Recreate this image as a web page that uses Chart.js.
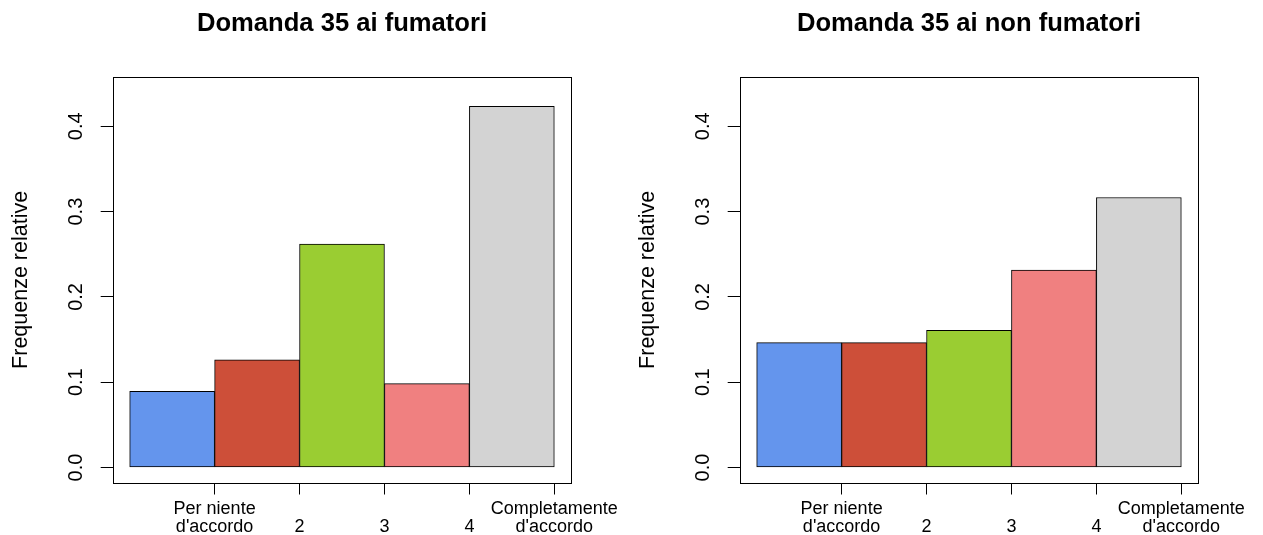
<!DOCTYPE html>
<html>
<head>
<meta charset="utf-8">
<script src="https://cdn.jsdelivr.net/npm/chart.js@4.4.0/dist/chart.umd.min.js"></script>
<style>
html,body{margin:0;padding:0;background:#fff;overflow:hidden;width:1263px;height:535px;}
.wrap{position:absolute;top:0;width:631px;height:535px;}
canvas{display:block;}
</style>
</head>
<body>
<div class="wrap" style="left:0px"><canvas id="c1" width="631" height="535"></canvas></div>
<div class="wrap" style="left:627px"><canvas id="c2" width="631" height="535"></canvas></div>
<script>
// ---- data ----
const categories = ["Per niente d'accordo", "2", "3", "4", "Completamente d'accordo"];
const fumatori = [0.0894, 0.1262, 0.2619, 0.0984, 0.4235];
const nonFumatori = [0.1465, 0.1465, 0.1609, 0.2316, 0.3166];
const barColors = ['#6495ED', '#CD4F39', '#9ACD32', '#F08080', '#D3D3D3'];
const yTicks = [0, 0.1, 0.2, 0.3, 0.4];
const yTickLabels = ['0.0', '0.1', '0.2', '0.3', '0.4'];
const xTicks = [1, 2, 3, 4, 5];
const xTickLabels = [['Per niente', "d'accordo"], ['', '2'], ['', '3'], ['', '4'], ['Completamente', "d'accordo"]];
const titles = ['Domanda 35 ai fumatori', 'Domanda 35 ai non fumatori'];
const yTitle = 'Frequenze relative';

const FONT = '"Liberation Sans", Arial, Helvetica, sans-serif';
Chart.defaults.font.family = FONT;
Chart.defaults.color = '#000';

const rPlot = {
  id: 'rPlot',
  afterDraw(chart) {
    const ctx = chart.ctx, a = chart.chartArea, ys = chart.scales.y;
    ctx.save();
    ctx.strokeStyle = '#000';
    ctx.lineWidth = 1;
    ctx.strokeRect(Math.round(a.left) + 0.5, Math.round(a.top) + 0.5,
                   Math.round(a.right) - Math.round(a.left), Math.round(a.bottom) - Math.round(a.top));
    ctx.fillStyle = '#000';
    ctx.font = '20px ' + FONT;
    ctx.textAlign = 'center';
    ctx.textBaseline = 'alphabetic';
    yTicks.forEach((v, i) => {
      const py = ys.getPixelForValue(v);
      ctx.save();
      ctx.translate(81.5, py);
      ctx.rotate(-Math.PI / 2);
      ctx.fillText(yTickLabels[i], 0, 0);
      ctx.restore();
    });
    ctx.restore();
  }
};

function makeChart(id, values, title) {
  return new Chart(document.getElementById(id), {
    type: 'bar',
    data: {
      labels: categories,
      datasets: [{
        data: values.map((v, i) => ({ x: i + 0.5, y: v })),
        backgroundColor: barColors,
        borderColor: '#000',
        borderWidth: 1,
        borderSkipped: false,
        categoryPercentage: 1,
        barPercentage: 1
      }]
    },
    plugins: [rPlot],
    options: {
      responsive: false,
      animation: false,
      devicePixelRatio: 1,
      layout: { padding: { left: 0, right: 59.7, top: 0, bottom: 0 } },
      plugins: {
        legend: { display: false },
        tooltip: { enabled: false },
        title: {
          display: true,
          text: title,
          fullSize: false,
          color: '#000',
          font: { family: FONT, size: 25.6, weight: 'bold', lineHeight: 1.2 },
          padding: { top: 9, bottom: 37.5 }
        }
      },
      scales: {
        x: {
          type: 'linear',
          min: -0.2,
          max: 5.2,
          offset: false,
          bounds: 'data',
          afterBuildTicks: s => { s.ticks = xTicks.map(v => ({ value: v })); },
          afterFit: s => { s.height = 52.5; },
          grid: { offset: false, drawOnChartArea: false, drawTicks: true, tickLength: 12, color: '#000', lineWidth: 1 },
          border: { display: false },
          ticks: {
            autoSkip: false, maxRotation: 0, minRotation: 0, color: '#000',
            font: { family: FONT, size: 18, lineHeight: 1.02 }, padding: 5,
            callback: (v, i) => xTickLabels[i]
          }
        },
        y: {
          type: 'linear',
          min: -0.0176,
          max: 0.4576,
          bounds: 'data',
          afterBuildTicks: s => { s.ticks = yTicks.map(v => ({ value: v })); },
          afterFit: s => { s.width = 112.7; },
          grid: { drawOnChartArea: false, drawTicks: true, tickLength: 12, color: '#000', lineWidth: 1 },
          border: { display: false },
          ticks: { display: false },
          title: {
            display: true, text: yTitle, color: '#000',
            font: { family: FONT, size: 21.5, lineHeight: 1.2 },
            padding: { top: 8.5, bottom: 0 }
          }
        }
      }
    }
  });
}

makeChart('c1', fumatori, titles[0]);
makeChart('c2', nonFumatori, titles[1]);
</script>
</body>
</html>
